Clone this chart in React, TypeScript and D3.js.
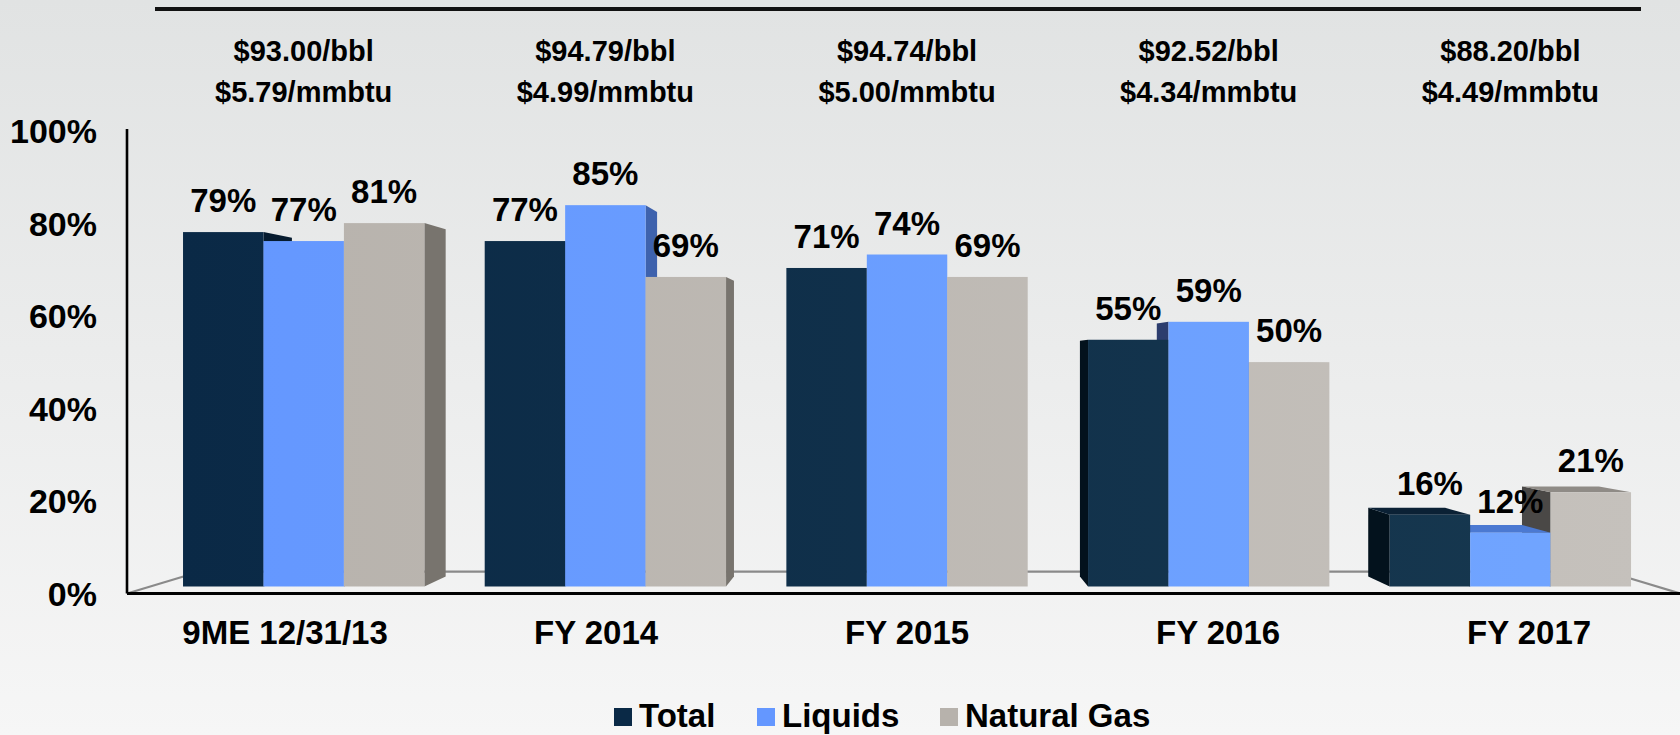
import React from "react";
import * as d3 from "d3";

const categories = ["9ME 12/31/13", "FY 2014", "FY 2015", "FY 2016", "FY 2017"];
const oilPrices = ["$93.00/bbl", "$94.79/bbl", "$94.74/bbl", "$92.52/bbl", "$88.20/bbl"];
const gasPrices = ["$5.79/mmbtu", "$4.99/mmbtu", "$5.00/mmbtu", "$4.34/mmbtu", "$4.49/mmbtu"];
const seriesNames = ["Total", "Liquids", "Natural Gas"];
const totalValues = [79, 77, 71, 55, 16];
const liquidsValues = [77, 85, 74, 59, 12];
const gasValues = [81, 69, 69, 50, 21];
const yTicks = [0, 20, 40, 60, 80, 100];

const W = 1680;
const H = 735;
const FONT = "'Liberation Sans', Arial, sans-serif";

// fake 3d: everything shrinks toward a vanishing point
const VX = 905;
const VY = 360;
const K_FRONT = 0.97;
const K_BACK = 0.927;
const K_FLOOR = 0.906;

const proj = (px: number, py: number, k: number): [number, number] => [
  VX + k * (px - VX),
  VY + k * (py - VY),
];

const colors = {
  Total: { grad: ["#0a2946", "#17384f"], top: "#0b2135", left: "#03121d", right: "#061b2f" },
  Liquids: { grad: ["#6497ff", "#71a5ff"], top: "#4b79d2", left: "#2c3d6e", right: "#3e62ad" },
  "Natural Gas": { grad: ["#b7b2ac", "#c5c1bc"], top: "#8f8b86", left: "#4a4846", right: "#78746e" },
};

const pts = (p: [number, number][]) => p.map((d) => d.join(",")).join(" ");

export default function App() {
  const x = d3
    .scaleBand()
    .domain(categories)
    .range([129.6, 1684.6])
    .paddingInner(0.2)
    .paddingOuter(0.1);
  const xs = d3.scaleBand().domain(seriesNames).range([0, x.bandwidth()]);
  const y = d3.scaleLinear().domain([0, 100]).range([593.5, 131]);

  const values = [totalValues, liquidsValues, gasValues];
  const bars = categories.flatMap((c, ci) =>
    seriesNames.map((s, si) => {
      const x0 = (x(c) as number) + (xs(s) as number);
      const x1 = x0 + xs.bandwidth();
      return { c, ci, s, v: values[si][ci], x0, x1 };
    })
  );

  const sides: JSX.Element[] = [];
  const tops: JSX.Element[] = [];
  const fronts: JSX.Element[] = [];
  const labels: JSX.Element[] = [];
  bars.forEach((b, i) => {
    const y0 = y(0);
    const y1 = y(b.v);
    const col = (colors as any)[b.s];
    const fTL = proj(b.x0, y1, K_FRONT);
    const fBR = proj(b.x1, y0, K_FRONT);
    if (fTL[0] > VX) {
      sides.push(
        <polygon key={"l" + i} fill={col.left}
          points={pts([proj(b.x0, y1, K_FRONT), proj(b.x0, y0, K_FRONT), proj(b.x0, y0, K_BACK), proj(b.x0, y1, K_BACK)])} />
      );
    }
    if (fBR[0] < VX) {
      sides.push(
        <polygon key={"r" + i} fill={col.right}
          points={pts([proj(b.x1, y1, K_FRONT), proj(b.x1, y0, K_FRONT), proj(b.x1, y0, K_BACK), proj(b.x1, y1, K_BACK)])} />
      );
    }
    if (fTL[1] > VY) {
      tops.push(
        <polygon key={"t" + i} fill={col.top}
          points={pts([proj(b.x0, y1, K_FRONT), proj(b.x1, y1, K_FRONT), proj(b.x1, y1, K_BACK), proj(b.x0, y1, K_BACK)])} />
      );
    }
    fronts.push(
      <rect key={"f" + i} x={fTL[0]} y={fTL[1]} width={fBR[0] - fTL[0]} height={fBR[1] - fTL[1]}
        fill={`url(#g${seriesNames.indexOf(b.s)})`} />
    );
    labels.push(
      <text key={"d" + i} x={(fTL[0] + fBR[0]) / 2} y={fTL[1] - 20} textAnchor="middle"
        fontSize={33} fontWeight="bold" fill="#000">{b.v}%</text>
    );
  });

  const floorL = 127;
  const floorR = 1680;
  const fl0 = proj(floorL, y(0), K_FLOOR);
  const fr0 = proj(floorR, y(0), K_FLOOR);

  const legendX = [614, 757, 940];

  return (
    <svg width={W} height={H} style={{ position: "fixed", left: 0, top: 0 }} fontFamily={FONT}>
      <defs>
        <linearGradient id="bg" x1="0" y1="0" x2="0" y2="1">
          <stop offset="0" stopColor="#e1e3e3" />
          <stop offset="1" stopColor="#f6f6f6" />
        </linearGradient>
        {seriesNames.map((s, si) => (
          <linearGradient key={s} id={"g" + si} gradientUnits="userSpaceOnUse" x1={180} y1={0} x2={1640} y2={0}>
            <stop offset="0" stopColor={(colors as any)[s].grad[0]} />
            <stop offset="1" stopColor={(colors as any)[s].grad[1]} />
          </linearGradient>
        ))}
      </defs>
      <rect width={W} height={H} fill="url(#bg)" />

      <line x1={155} x2={1641} y1={9} y2={9} stroke="#111" strokeWidth={4} />

      {categories.map((c, ci) => {
        const cx = proj((x(c) as number) + x.bandwidth() / 2, 0, K_FRONT)[0];
        return (
          <g key={c} fontSize={29} fontWeight="bold" textAnchor="middle" fill="#000">
            <text x={cx} y={61}>{oilPrices[ci]}</text>
            <text x={cx} y={102}>{gasPrices[ci]}</text>
          </g>
        );
      })}

      {/* floor */}
      <g stroke="#8a8a8a" strokeWidth={2.2} fill="none">
        <line x1={floorL} y1={y(0)} x2={fl0[0]} y2={fl0[1]} />
        <line x1={fl0[0]} y1={fl0[1]} x2={fr0[0]} y2={fr0[1]} />
        <line x1={fr0[0]} y1={fr0[1]} x2={floorR} y2={y(0)} />
      </g>

      {sides}
      {tops}
      {fronts}

      {/* axes */}
      <line x1={127} x2={127} y1={129} y2={y(0)} stroke="#000" strokeWidth={2.6} />
      <line x1={127} x2={floorR} y1={y(0)} y2={y(0)} stroke="#000" strokeWidth={2.8} />

      {yTicks.map((t) => (
        <text key={t} x={97} y={y(t) + 12} textAnchor="end" fontSize={34} fontWeight="bold" fill="#000">
          {t}%
        </text>
      ))}

      {categories.map((c) => (
        <text key={c} x={(x(c) as number) + x.bandwidth() / 2} y={644} textAnchor="middle"
          fontSize={33} fontWeight="bold" fill="#000">{c}</text>
      ))}

      {labels}

      {seriesNames.map((s, si) => (
        <g key={s}>
          <rect x={legendX[si]} y={708} width={18} height={18} fill={(colors as any)[s].grad[0]} />
          <text x={legendX[si] + 25} y={727} fontSize={33} fontWeight="bold" fill="#000">{s}</text>
        </g>
      ))}
    </svg>
  );
}
